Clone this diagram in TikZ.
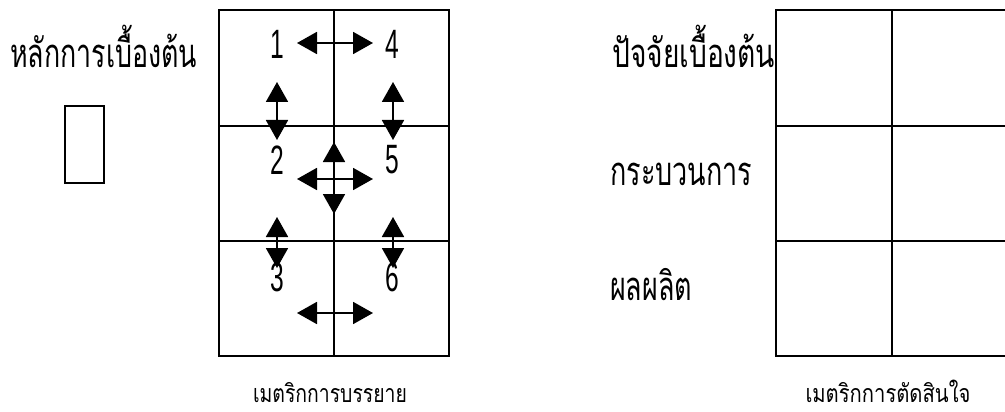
\documentclass[tikz,border=0pt]{standalone}
\usepackage{fontspec}
\usetikzlibrary{arrows.meta}
\newfontfamily\thaifont[Script=Thai]{Loma}
\newfontfamily\digitfont[FakeStretch=0.6]{Liberation Sans}
\newcommand{\bigthai}[2]{\resizebox{#1}{\height}{\thaifont\fontsize{40}{44}\selectfont #2}}
\newcommand{\capthai}[2]{\resizebox{#1}{\height}{\thaifont\fontsize{25}{28}\selectfont #2}}
\tikzset{
  px/.style={x=1pt,y=-1pt},
  gridline/.style={line width=2.1pt},
  biglbl/.style={inner sep=0pt,anchor=base west},
  smalllbl/.style={inner sep=0pt,anchor=base},
  num/.style={inner sep=0pt,font=\digitfont\fontsize{41}{44}\selectfont},
  dblarrow/.style={line width=1.9pt,{Triangle[length=20pt 0 0,width=22pt 0 0]}-{Triangle[length=20pt 0 0,width=22pt 0 0]}}
}
\begin{document}
\begin{tikzpicture}[px]
\useasboundingbox (0,0) rectangle (1005,412);
% left label and small box
\node[biglbl] (hl) at (10,68) {\bigthai{187pt}{หลักการเบื้องต้น}};
\node[draw,line width=1.5pt,minimum width=39pt,minimum height=77pt,inner sep=0pt] (sb) at (84.5,144.5) {};
% left grid
\draw[gridline] (219,10) rectangle (449,356);
\draw[gridline] (334,10) -- (334,356);
\draw[gridline] (219,126) -- (449,126);
\draw[gridline] (219,241) -- (449,241);
% digits
\node[num] (n1) at (277,44) {1};
\node[num] (n4) at (392,44) {4};
\node[num] (n2) at (277,160) {2};
\node[num] (n5) at (392,160) {5};
\node[num] (n3) at (277,277) {3};
\node[num] (n6) at (392,277) {6};
% arrow end points
\coordinate (a1l) at (297,43);  \coordinate (a1r) at (373,43);
\coordinate (b1t) at (277,82);  \coordinate (b1b) at (277,140);
\coordinate (b2t) at (393,82);  \coordinate (b2b) at (393,140);
\coordinate (ct) at (334,142);  \coordinate (cb) at (334,214);
\coordinate (cl) at (297,179);  \coordinate (cr) at (373,179);
\coordinate (e1t) at (277,217); \coordinate (e1b) at (277,268);
\coordinate (e2t) at (393,217); \coordinate (e2b) at (393,268);
\coordinate (g1l) at (297,313); \coordinate (g1r) at (373,313);
\draw[dblarrow] (a1l) -- (a1r);
\draw[dblarrow] (b1t) -- (b1b);
\draw[dblarrow] (b2t) -- (b2b);
\draw[dblarrow] (ct) -- (cb);
\draw[dblarrow] (cl) -- (cr);
\draw[dblarrow] (e1t) -- (e1b);
\draw[dblarrow] (e2t) -- (e2b);
\draw[dblarrow] (g1l) -- (g1r);
\node[smalllbl] (capl) at (330,402) {\capthai{154pt}{เมตริกการบรรยาย}};
% right side
\node[biglbl] (r1) at (612,68) {\bigthai{163pt}{ปัจจัยเบื้องต้น}};
\node[biglbl] (r2) at (610,185) {\bigthai{142pt}{กระบวนการ}};
\node[biglbl] (r3) at (610,300) {\bigthai{82pt}{ผลผลิต}};
\draw[gridline] (776,10) rectangle (1008,356);
\draw[gridline] (892,10) -- (892,356);
\draw[gridline] (776,126) -- (1008,126);
\draw[gridline] (776,241) -- (1008,241);
\node[smalllbl] (capr) at (888,402) {\capthai{165pt}{เมตริกการตัดสินใจ}};
\end{tikzpicture}
\end{document}
